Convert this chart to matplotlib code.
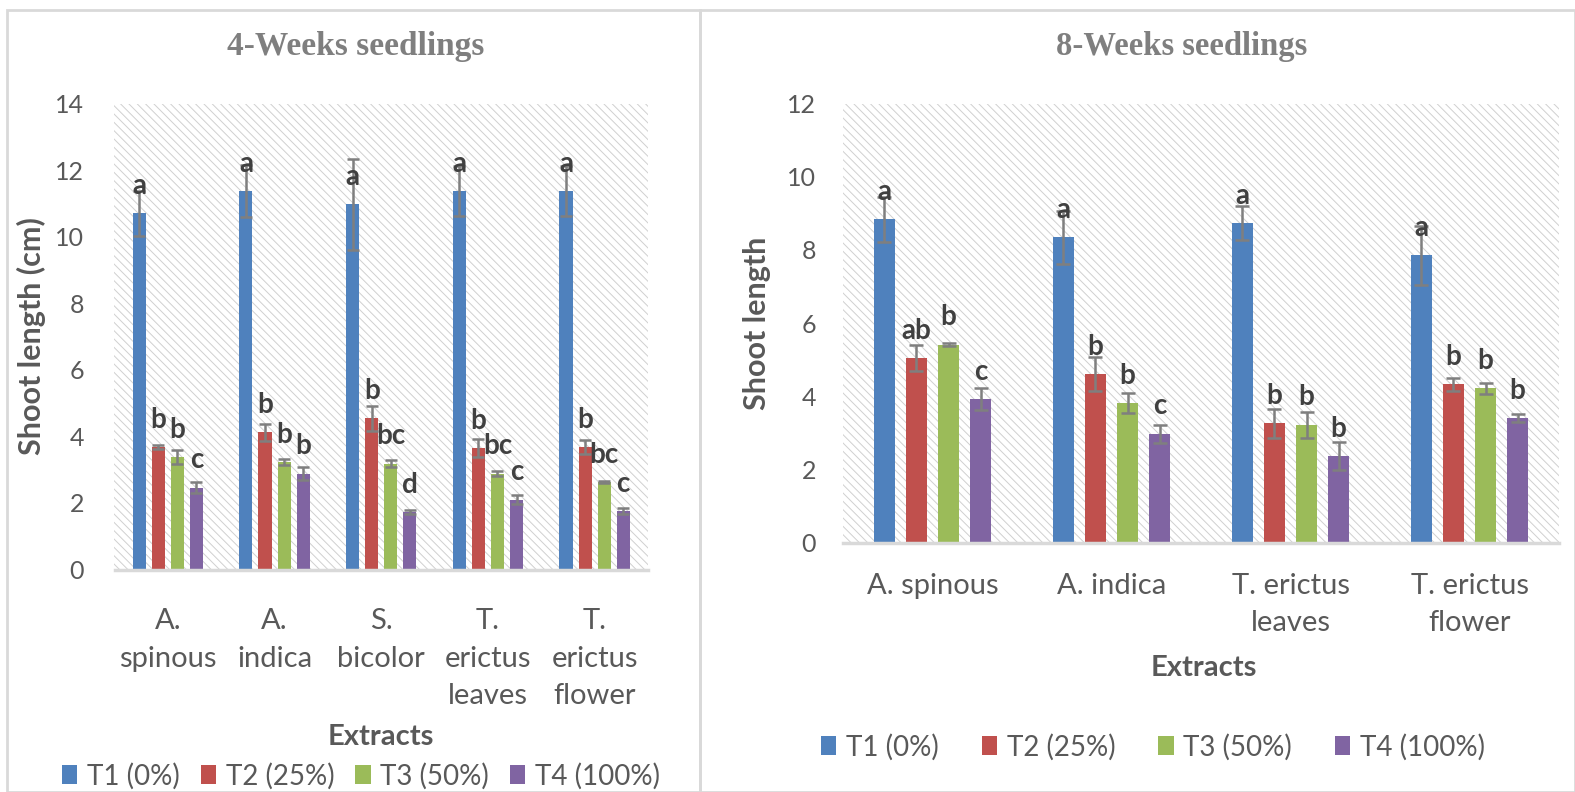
import matplotlib
matplotlib.use("Agg")
import matplotlib.pyplot as plt
from matplotlib.patches import Rectangle
import numpy as np

# ---------------- data ----------------
series = ["T1 (0%)", "T2 (25%)", "T3 (50%)", "T4 (100%)"]
colors = ["#4F81BD", "#C0504D", "#9BBB59", "#8064A2"]

cats_4w = ["A.\nspinous", "A.\nindica", "S.\nbicolor", "T.\nerictus\nleaves", "T.\nerictus\nflower"]
t1_4w = [10.70, 11.36, 10.97, 11.36, 11.36]
t2_4w = [3.68, 4.12, 4.54, 3.65, 3.68]
t3_4w = [3.38, 3.23, 3.18, 2.88, 2.63]
t4_4w = [2.46, 2.88, 1.72, 2.10, 1.75]
e1_4w = [0.68, 0.78, 1.37, 0.75, 0.75]
e2_4w = [0.05, 0.25, 0.37, 0.27, 0.22]
e3_4w = [0.20, 0.08, 0.10, 0.08, 0.04]
e4_4w = [0.17, 0.20, 0.06, 0.14, 0.09]
l1_4w = ["a", "a", "a", "a", "a"]
l2_4w = ["b", "b", "b", "b", "b"]
l3_4w = ["b", "b", "bc", "bc", "bc"]
l4_4w = ["c", "b", "d", "c", "c"]

cats_8w = ["A. spinous", "A. indica", "T. erictus\nleaves", "T. erictus\nflower"]
t1_8w = [8.83, 8.34, 8.73, 7.85]
t2_8w = [5.04, 4.60, 3.26, 4.32]
t3_8w = [5.41, 3.81, 3.22, 4.22]
t4_8w = [3.92, 2.97, 2.36, 3.40]
e1_8w = [0.62, 0.73, 0.47, 0.81]
e2_8w = [0.35, 0.46, 0.39, 0.17]
e3_8w = [0.05, 0.27, 0.36, 0.15]
e4_8w = [0.30, 0.24, 0.38, 0.10]
l1_8w = ["a", "a", "a", "a"]
l2_8w = ["ab", "b", "b", "b"]
l3_8w = ["b", "b", "b", "b"]
l4_8w = ["c", "c", "b", "b"]

# ---------------- style ----------------
plt.rcParams["font.family"] = ["Lato", "DejaVu Sans"]
plt.rcParams["hatch.linewidth"] = 0.7
TXT = "#595959"
LAB = "#404040"
GRID = "#D9D9D9"

W, H = 1575, 792
fig = plt.figure(figsize=(W / 100, H / 100), dpi=100)

# panel borders
fig.patches.append(Rectangle((7 / W, 0), (700 - 7) / W, 1 - 10 / H, transform=fig.transFigure,
                             fill=False, edgecolor=GRID, lw=2))
fig.patches.append(Rectangle((700 / W, 0), (W - 700) / W, 1 - 10 / H, transform=fig.transFigure,
                             fill=False, edgecolor=GRID, lw=2))


def draw_panel(rect, cats, vals, errs, labels, ymax, spacing, width, capsize, tickpad,
               ylab, ylabpad, linesp):
    ax = fig.add_axes(rect)
    ax.set_facecolor("white")
    hatch = Rectangle((0, 0), 1, 1, transform=ax.transAxes, facecolor="white",
                      edgecolor="#D0D0D0", hatch="\\\\\\\\", lw=0, zorder=0)
    ax.add_patch(hatch)
    x = np.arange(len(cats))
    for i in range(4):
        xi = x + (i - 1.5) * spacing
        ax.bar(xi, vals[i], width=width, color=colors[i], zorder=2, label=series[i])
        ax.errorbar(xi, vals[i], yerr=errs[i], fmt="none", ecolor="#7F7F7F",
                    elinewidth=1.8, capsize=capsize, capthick=1.8, zorder=3)
        for xx, v, t in zip(xi, vals[i], labels[i]):
            ax.annotate(t, (xx, v), xytext=(0, 14), textcoords="offset points",
                        ha="center", va="baseline", fontsize=20, fontweight="bold",
                        color=LAB, zorder=4)
    ax.set_xlim(-0.5, len(cats) - 0.5)
    ax.set_ylim(0, ymax)
    ax.set_yticks(np.arange(0, ymax + 0.1, 2))
    ax.set_xticks(x)
    ax.set_xticklabels(cats, linespacing=linesp, fontsize=21)
    for s in ["top", "right", "left"]:
        ax.spines[s].set_visible(False)
    ax.spines["bottom"].set_color(GRID)
    ax.spines["bottom"].set_linewidth(2.5)
    ax.tick_params(axis="both", length=0, labelcolor=TXT)
    ax.tick_params(axis="y", labelsize=18, pad=ylabpad)
    ax.tick_params(axis="x", pad=tickpad)
    ax.set_ylabel(ylab, fontsize=22, fontweight="bold", color=TXT)
    return ax


ax1 = draw_panel([114.5 / W, 1 - 569.5 / H, (648 - 114.5) / W, 466 / H], cats_4w,
                 [t1_4w, t2_4w, t3_4w, t4_4w], [e1_4w, e2_4w, e3_4w, e4_4w],
                 [l1_4w, l2_4w, l3_4w, l4_4w], 14, 0.179, 0.122, 4, 28,
                 "Shoot length (cm)", 22, 1.55)
ax1.yaxis.set_label_coords(-0.128, 0.5)

ax2 = draw_panel([843 / W, 1 - 542.5 / H, (1559 - 843) / W, 439 / H], cats_8w,
                 [t1_8w, t2_8w, t3_8w, t4_8w], [e1_8w, e2_8w, e3_8w, e4_8w],
                 [l1_8w, l2_8w, l3_8w, l4_8w], 12, 0.179, 0.12, 5, 22,
                 "Shoot length", 19.5, 1.5)
ax2.yaxis.set_label_coords(-0.100, 0.5)

# titles
fig.text(356 / W, 1 - 46 / H, "4-Weeks seedlings", ha="center", va="center",
         family="Liberation Serif", fontweight="bold", fontsize=24, color="#7F7F7F")
fig.text(1182 / W, 1 - 46 / H, "8-Weeks seedlings", ha="center", va="center",
         family="Liberation Serif", fontweight="bold", fontsize=23.5, color="#7F7F7F")

# x titles
fig.text(381 / W, 1 - 737 / H, "Extracts", ha="center", va="center",
         fontsize=21, fontweight="bold", color=TXT)
fig.text(1204 / W, 1 - 668 / H, "Extracts", ha="center", va="center",
         fontsize=21, fontweight="bold", color=TXT)

# legends
handles = [Rectangle((0, 0), 1, 1, facecolor=c) for c in colors]
fig.legend(handles, series, loc="center", bbox_to_anchor=(361 / W, 1 - 776 / H), ncol=4,
           frameon=False, fontsize=20, labelcolor=TXT, handlelength=0.55, handleheight=0.7,
           handletextpad=0.35, columnspacing=0.75, borderpad=0, borderaxespad=0)
fig.legend(handles, series, loc="center", bbox_to_anchor=(1153 / W, 1 - 747 / H), ncol=4,
           frameon=False, fontsize=20, labelcolor=TXT, handlelength=0.55, handleheight=0.7,
           handletextpad=0.35, columnspacing=1.55, borderpad=0, borderaxespad=0)

fig.savefig("out.png", dpi=100)
